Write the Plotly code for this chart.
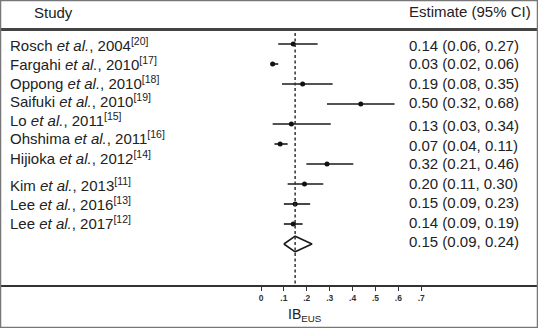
import plotly.graph_objects as go

# ---------------- data ----------------
authors = ["Rosch", "Fargahi", "Oppong", "Saifuki", "Lo", "Ohshima", "Hijioka", "Kim", "Lee", "Lee"]
years = ["2004", "2010", "2010", "2010", "2011", "2011", "2012", "2013", "2016", "2017"]
refs = ["20", "17", "18", "19", "15", "16", "14", "11", "13", "12"]
estimate = [0.14, 0.03, 0.19, 0.50, 0.13, 0.07, 0.32, 0.20, 0.15, 0.14]
ci_low = [0.06, 0.02, 0.08, 0.32, 0.03, 0.04, 0.21, 0.11, 0.09, 0.09]
ci_high = [0.27, 0.06, 0.35, 0.68, 0.34, 0.11, 0.46, 0.30, 0.23, 0.19]
pooled = 0.15
pooled_low = 0.09
pooled_high = 0.24
axis_ticks = [0, 0.1, 0.2, 0.3, 0.4, 0.5, 0.6, 0.7]
axis_ticktext = ["0", ".1", ".2", ".3", ".4", ".5", ".6", ".7"]

# ---------------- layout helpers (pixels) ----------------
W, H = 538, 328
FONT = "Liberation Sans, Arial, sans-serif"
TXT = "#222222"
AXIS_Y = 284.5                      # pixel row of the axis line
ROW0, ROWSTEP = 44, 20              # mark rows
MARK_X0, MARK_SCALE = 267, 187.5    # pixel of 0 and px/unit for marks
AX_X0, AX_SCALE = 261, 229          # pixel of 0 and px/unit for labelled axis
PAD = 3                             # annotation inner padding

def py(p):
    return 1 - p / H

def px(p):
    return p / W

left_label_y = [44, 63, 82, 100, 119, 138, 157, 184, 203, 222]
right_label_y = [45, 64, 83, 103, 125, 145, 163, 183, 202, 222]
pooled_label_y = 241

n = len(estimate)
rows = list(range(n))
pooled_row = n

fig = go.Figure()

# CI lines
cx, cy = [], []
for i in rows:
    cx += [ci_low[i], ci_high[i], None]
    cy += [i, i, None]
fig.add_trace(go.Scatter(x=cx, y=cy, mode="lines", line=dict(color="#1a1a1a", width=1.6),
                         hoverinfo="skip", xaxis="x", yaxis="y"))
# point estimates
fig.add_trace(go.Scatter(x=estimate, y=rows, mode="markers",
                         marker=dict(color="#111111", size=5, symbol="circle"),
                         xaxis="x", yaxis="y"))
# pooled diamond
dh = 0.39
fig.add_trace(go.Scatter(x=[pooled_low, pooled, pooled_high, pooled, pooled_low],
                         y=[pooled_row, pooled_row - dh, pooled_row, pooled_row + dh, pooled_row],
                         mode="lines", fill="toself", fillcolor="white",
                         line=dict(color="#1a1a1a", width=1.6), xaxis="x", yaxis="y"))
# dashed reference line at pooled estimate
top_row = (33 - ROW0) / ROWSTEP
bot_row = (AXIS_Y - ROW0) / ROWSTEP
fig.add_trace(go.Scatter(x=[pooled, pooled], y=[top_row, bot_row], mode="lines",
                         line=dict(color="#333333", width=1.5, dash="3px,2.5px"),
                         xaxis="x", yaxis="y"))
# invisible trace on labelled axis so it renders
fig.add_trace(go.Scatter(x=[0], y=[0], mode="markers", marker=dict(opacity=0),
                         xaxis="x2", yaxis="y", hoverinfo="skip"))

row_top = (0 - ROW0) / ROWSTEP
row_bot = (AXIS_Y - ROW0) / ROWSTEP

fig.update_layout(
    width=W, height=H,
    margin=dict(l=0, r=0, t=0, b=0),
    paper_bgcolor="white", plot_bgcolor="white",
    showlegend=False,
    xaxis=dict(range=[-MARK_X0 / MARK_SCALE, (W - MARK_X0) / MARK_SCALE],
               visible=False, fixedrange=True),
    xaxis2=dict(range=[-AX_X0 / AX_SCALE, (W - AX_X0) / AX_SCALE],
                overlaying="x", anchor="y", side="bottom",
                tickvals=axis_ticks, ticktext=axis_ticktext,
                ticks="outside", ticklen=5, tickwidth=1.3, tickcolor="#333333",
                showline=True, linecolor="#333333", linewidth=1.5,
                showgrid=False, zeroline=False,
                tickfont=dict(family=FONT, size=8.5, color="#333333", weight="bold")),
    yaxis=dict(domain=[1 - AXIS_Y / H, 1], range=[row_bot, row_top],
               visible=False, fixedrange=True),
)

annotations = []
# headers
annotations.append(dict(text="Study", x=px(35 - PAD), y=py(12), xref="paper", yref="paper",
                        xanchor="left", yanchor="middle", showarrow=False,
                        font=dict(family=FONT, size=15, color=TXT)))
annotations.append(dict(text="Estimate (95% CI)", x=px(410 - PAD), y=py(11), xref="paper", yref="paper",
                        xanchor="left", yanchor="middle", showarrow=False,
                        font=dict(family=FONT, size=15, color=TXT)))
# study labels
for i in rows:
    label = f"{authors[i]} <i>et al.</i>, {years[i]}<sup>[{refs[i]}]</sup>"
    annotations.append(dict(text=label, x=px(11 - PAD), y=py(left_label_y[i]), xref="paper", yref="paper",
                            xanchor="left", yanchor="middle", showarrow=False,
                            font=dict(family=FONT, size=15, color=TXT)))
# estimate labels
for i in rows:
    label = f"{estimate[i]:.2f} ({ci_low[i]:.2f}, {ci_high[i]:.2f})"
    annotations.append(dict(text=label, x=px(410 - PAD), y=py(right_label_y[i]), xref="paper", yref="paper",
                            xanchor="left", yanchor="middle", showarrow=False,
                            font=dict(family=FONT, size=15, color=TXT)))
annotations.append(dict(text=f"{pooled:.2f} ({pooled_low:.2f}, {pooled_high:.2f})",
                        x=px(410 - PAD), y=py(pooled_label_y), xref="paper", yref="paper",
                        xanchor="left", yanchor="middle", showarrow=False,
                        font=dict(family=FONT, size=15, color=TXT)))
# axis title
annotations.append(dict(text="IB<sub>EUS</sub>", x=px(289 - PAD), y=py(315), xref="paper", yref="paper",
                        xanchor="left", yanchor="middle", showarrow=False,
                        font=dict(family=FONT, size=14, color=TXT)))
fig.update_layout(annotations=annotations)

shapes = [
    # header separator
    dict(type="line", xref="paper", yref="paper", x0=0, x1=1, y0=py(29.5), y1=py(29.5),
         line=dict(color="#444444", width=3)),
    # outer frame
    dict(type="rect", xref="paper", yref="paper", x0=px(0.5), x1=px(W - 0.5), y0=py(H - 0.5), y1=py(0.5),
         line=dict(color="#777777", width=1.5)),
]
fig.update_layout(shapes=shapes)

fig.write_html("out.html", config={"displayModeBar": False},
               post_script="document.body.style.margin='0';")
